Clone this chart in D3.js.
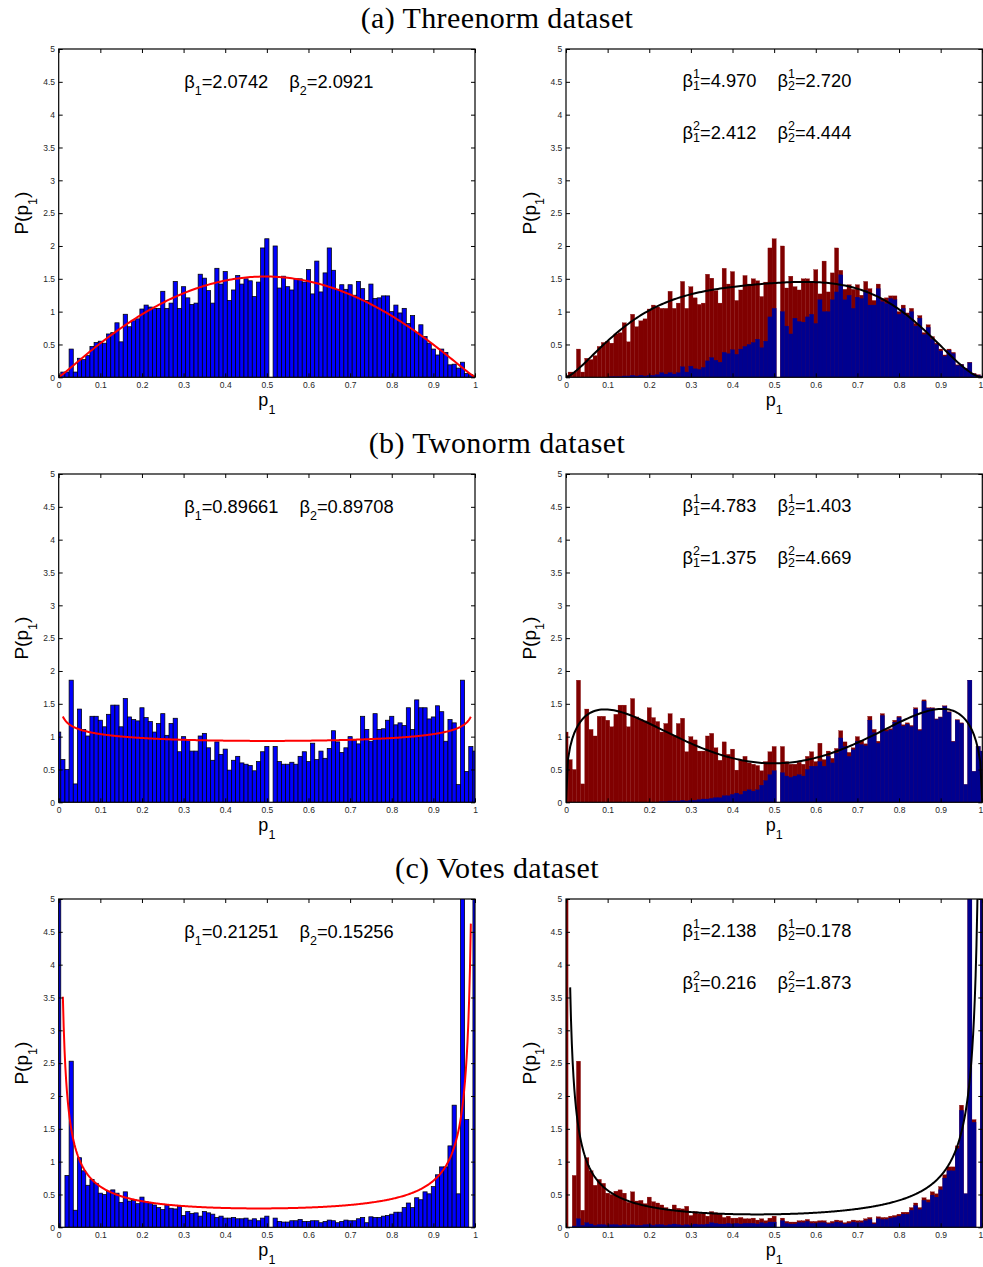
<!DOCTYPE html>
<html>
<head>
<meta charset="utf-8">
<script src="https://cdn.jsdelivr.net/npm/d3@7"></script>
<style>
  body { margin: 0; background: #fff; }
  text { font-family: "Liberation Sans", Arial, sans-serif; }
</style>
</head>
<body>
<svg id="fig" width="983" height="1267"></svg>
<script>
// Histogram bin centres (hist with centres 0:0.01:1)
const binCenters = d3.range(0, 101).map(k => k / 100);
const xTicks = [0, 0.1, 0.2, 0.3, 0.4, 0.5, 0.6, 0.7, 0.8, 0.9, 1];
const yTicks = [0, 0.5, 1, 1.5, 2, 2.5, 3, 3.5, 4, 4.5, 5];

const titles = ["(a) Threenorm dataset", "(b) Twonorm dataset", "(c) Votes dataset"];

// ---- Threenorm ----
const threenormTotal = [
  0.03,0.08,0.08,0.43,0.08,0.29,0.27,0.33,0.47,0.53,
  0.55,0.52,0.66,0.68,0.83,0.54,0.96,0.77,0.86,0.89,
  1.04,1.10,1.07,1.05,1.05,1.31,1.05,1.13,1.46,1.05,
  1.38,1.21,1.11,1.13,1.57,1.51,1.32,1.13,1.66,1.42,
  1.61,1.17,1.33,1.55,1.42,1.50,1.47,1.23,1.45,1.97,
  2.11,0,2.00,1.36,1.54,1.38,1.33,1.50,1.50,1.45,
  1.64,1.27,1.77,1.30,1.59,1.97,1.63,1.34,1.41,1.34,
  1.41,1.25,1.46,1.35,1.17,1.42,1.20,1.21,1.24,1.24,
  1.00,1.10,0.98,1.05,0.82,0.94,0.68,0.80,0.62,0.52,
  0.43,0.34,0.43,0.38,0.19,0.20,0.14,0.23,0.06,0.04,
  0.02];
const threenormClass2 = [
  0,0,0,0,0,0,0,0,0,0,
  0,0.01,0.01,0.01,0.02,0.02,0.03,0.02,0.03,0.02,
  0.03,0.03,0.04,0.07,0.05,0.07,0.05,0.07,0.16,0.08,
  0.17,0.13,0.12,0.15,0.25,0.30,0.26,0.23,0.38,0.36,
  0.42,0.35,0.43,0.47,0.50,0.53,0.58,0.45,0.55,0.92,
  1.05,0,1.00,0.78,0.66,0.90,0.85,0.84,0.92,0.96,
  0.82,1.18,1.00,1.00,1.18,1.30,1.56,1.18,1.25,1.05,
  1.22,1.20,1.32,1.10,1.10,1.35,1.15,1.12,1.20,1.18,
  0.96,1.05,0.93,1.00,0.78,0.90,0.65,0.76,0.58,0.50,
  0.40,0.32,0.41,0.36,0.18,0.19,0.13,0.22,0.05,0.03,
  0.02];
const threenormFit = ["2.0742", "2.0921"];
const threenormMix = [["4.970", "2.720"], ["2.412", "4.444"]];
const threenormWeights = [0.5, 0.5];

// ---- Twonorm ----
const twonormTotal = [
  1.07,0.65,0.50,1.86,0.28,1.42,1.11,1.01,1.31,1.31,
  1.25,1.15,1.34,1.48,1.48,1.15,1.58,1.30,1.26,1.24,
  1.44,1.29,1.23,1.07,1.20,1.35,1.02,1.20,1.28,0.77,
  1.00,0.95,0.78,0.78,1.01,1.05,0.83,0.64,0.92,0.73,
  0.81,0.49,0.64,0.70,0.60,0.58,0.56,0.48,0.62,0.77,
  0.85,0,0.85,0.62,0.58,0.58,0.61,0.58,0.70,0.77,
  0.62,0.90,0.65,0.78,0.67,0.82,1.09,0.92,0.76,0.83,
  1.00,0.94,0.89,1.31,1.11,0.93,1.35,1.11,1.12,1.25,
  1.31,1.18,1.21,1.17,1.44,1.11,1.56,1.44,1.44,1.27,
  1.30,1.47,1.38,0.93,1.26,1.21,0.27,1.86,0.47,0.85,
  0.78];
const twonormClass2 = [
  0,0,0,0,0,0,0,0,0,0,
  0,0,0,0,0,0,0,0,0,0,
  0,0,0,0.01,0.01,0.02,0.02,0.02,0.03,0.02,
  0.03,0.03,0.04,0.05,0.05,0.06,0.07,0.07,0.10,0.10,
  0.12,0.14,0.12,0.17,0.19,0.17,0.19,0.26,0.33,0.42,
  0.48,0,0.45,0.40,0.38,0.40,0.42,0.40,0.50,0.55,
  0.55,0.62,0.55,0.70,0.60,0.75,0.98,0.85,0.70,0.80,
  0.93,0.88,0.86,1.25,1.06,0.90,1.32,1.08,1.10,1.22,
  1.29,1.16,1.19,1.15,1.42,1.09,1.54,1.43,1.43,1.26,
  1.29,1.46,1.37,0.92,1.25,1.20,0.27,1.86,0.47,0.85,
  0.78];
const twonormFit = ["0.89661", "0.89708"];
const twonormMix = [["4.783", "1.403"], ["1.375", "4.669"]];
const twonormWeights = [0.5, 0.5];

// ---- Votes ----
const votesTotal = [
  9.0,0,0.79,2.53,0.26,1.06,0.86,0.64,0.73,0.67,
  0.52,0.50,0.55,0.57,0.52,0.38,0.54,0.40,0.41,0.36,
  0.46,0.39,0.37,0.34,0.30,0.27,0.34,0.29,0.28,0.32,
  0.18,0.24,0.21,0.22,0.17,0.24,0.22,0.20,0.15,0.17,
  0.14,0.14,0.15,0.13,0.13,0.14,0.11,0.13,0.10,0.14,
  0.17,0,0.14,0.09,0.08,0.08,0.10,0.10,0.12,0.09,
  0.09,0.10,0.10,0.07,0.09,0.11,0.10,0.07,0.09,0.11,
  0.10,0.10,0.13,0.15,0.07,0.16,0.15,0.15,0.17,0.18,
  0.20,0.23,0.23,0.30,0.37,0.30,0.45,0.42,0.54,0.51,
  0.62,0.80,0.92,0.92,1.24,1.86,0.51,7.5,1.64,0,
  8.0];
const votesClass2 = [
  0,0,0.02,0.13,0.03,0.07,0.05,0.03,0.04,0.04,
  0.03,0.04,0.04,0.03,0.04,0.03,0.04,0.03,0.03,0.04,
  0.04,0.03,0.04,0.04,0.03,0.04,0.05,0.04,0.03,0.04,
  0.03,0.05,0.04,0.04,0.05,0.07,0.06,0.05,0.05,0.06,
  0.05,0.06,0.05,0.06,0.06,0.06,0.05,0.07,0.06,0.08,
  0.08,0,0.10,0.06,0.05,0.05,0.07,0.07,0.09,0.06,
  0.06,0.07,0.07,0.05,0.06,0.08,0.07,0.05,0.06,0.08,
  0.07,0.07,0.10,0.12,0.05,0.13,0.12,0.12,0.14,0.15,
  0.17,0.20,0.20,0.26,0.33,0.27,0.41,0.38,0.49,0.46,
  0.57,0.75,0.86,0.86,1.20,1.78,0.51,7.5,1.60,0,
  8.0];
const votesFit = ["0.21251", "0.15256"];
const votesMix = [["2.138", "0.178"], ["0.216", "1.873"]];
const votesWeights = [0.614, 0.386];

// ---- Beta density ----
function lgamma(z) {
  const c = [0.99999999999980993, 676.5203681218851, -1259.1392167224028,
    771.32342877765313, -176.61502916214059, 12.507343278686905,
    -0.13857109526572012, 9.9843695780195716e-6, 1.5056327351493116e-7];
  if (z < 0.5) return Math.log(Math.PI / Math.abs(Math.sin(Math.PI * z))) - lgamma(1 - z);
  z -= 1;
  let x = c[0];
  for (let i = 1; i < 9; i++) x += c[i] / (z + i);
  const t = z + 7.5;
  return 0.5 * Math.log(2 * Math.PI) + (z + 0.5) * Math.log(t) - t + Math.log(x);
}
function betaPdf(x, a, b) {
  const lb = lgamma(a) + lgamma(b) - lgamma(a + b);
  return Math.exp((a - 1) * Math.log(x) + (b - 1) * Math.log(1 - x) - lb);
}

// ---- Layout ----
const W = 416.3, H = 328.3;
const colX = [58.7, 566];
const rowY = [49, 474, 899];
const titleY = [28, 453, 878];
const svg = d3.select("#fig");

const datasets = [
  {total: threenormTotal, cls2: threenormClass2, fit: threenormFit, mix: threenormMix, w: threenormWeights, open: false},
  {total: twonormTotal, cls2: twonormClass2, fit: twonormFit, mix: twonormMix, w: twonormWeights, open: true},
  {total: votesTotal, cls2: votesClass2, fit: votesFit, mix: votesMix, w: votesWeights, open: true}
];

const fmt = d => String(+d.toFixed(1));
let clipId = 0;

function axesFrame(g, x, y, x0, y0, atRightEdge) {
  const styleAxis = sel => {
    sel.select(".domain").remove();
    sel.selectAll(".tick line").attr("stroke", "#000").attr("stroke-width", 1);
    sel.selectAll(".tick text").attr("fill", "#262626")
      .style("font-family", '"Liberation Sans", Arial, sans-serif').style("font-size", "8.5px");
  };
  const bottom = g.append("g").attr("transform", `translate(0,${y0 + H})`)
    .call(d3.axisBottom(x).tickValues(xTicks).tickFormat(fmt).tickSizeInner(-4).tickSizeOuter(0).tickPadding(4.2))
    .call(styleAxis);
  if (atRightEdge) {
    // keep the last tick label inside the page
    bottom.selectAll(".tick").filter(d => d === 1).select("text")
      .attr("text-anchor", "end").attr("x", 0.4);
  }
  g.append("g").attr("transform", `translate(0,${y0})`)
    .call(d3.axisTop(x).tickValues(xTicks).tickFormat("").tickSizeInner(-4).tickSizeOuter(0))
    .call(styleAxis);
  g.append("g").attr("transform", `translate(${x0},0)`)
    .call(d3.axisLeft(y).tickValues(yTicks).tickFormat(d => String(d)).tickSizeInner(-4).tickSizeOuter(0).tickPadding(3.7))
    .call(styleAxis);
  g.append("g").attr("transform", `translate(${x0 + W},0)`)
    .call(d3.axisRight(y).tickValues(yTicks).tickFormat("").tickSizeInner(-4).tickSizeOuter(0))
    .call(styleAxis);
  g.append("rect").attr("x", x0).attr("y", y0).attr("width", W).attr("height", H)
    .attr("fill", "none").attr("stroke", "#000").attr("stroke-width", 1.2);

  // axis labels
  g.append("text").attr("x", x0 + W / 2).attr("y", y0 + H + 28.8)
    .attr("text-anchor", "middle").attr("font-size", 18)
    .call(t => {
      t.append("tspan").text("p");
      t.append("tspan").attr("dy", 8).attr("font-size", 12.5).text("1");
    });
  g.append("text").attr("transform", `translate(${x0 - 30.5},${y0 + H / 2}) rotate(-90)`)
    .attr("text-anchor", "middle").attr("font-size", 19)
    .call(t => {
      t.append("tspan").text("P(p");
      t.append("tspan").attr("dy", 8.5).attr("font-size", 12.5).text("1");
      t.append("tspan").attr("dy", -8.5).text(")");
    });
}

// β parameter annotations, written piece by piece so super/subscripts stack
function paramText(g, x0, yBase, groups) {
  let x = x0;
  groups.forEach(gr => {
    const b = g.append("text").attr("x", x).attr("y", yBase).attr("font-size", 18.3).text("β");
    x += b.node().getComputedTextLength();
    let sw = 0;
    if (gr.sup) {
      const s = g.append("text").attr("x", x).attr("y", yBase - 8.3).attr("font-size", 12.5).text(gr.sup);
      sw = s.node().getComputedTextLength();
    }
    const sb = g.append("text").attr("x", x).attr("y", yBase + (gr.sup ? 3.5 : 6.8))
      .attr("font-size", 12.5).text(gr.sub);
    sw = Math.max(sw, sb.node().getComputedTextLength());
    x += sw;
    const v = g.append("text").attr("x", x).attr("y", yBase).attr("font-size", 18.3).text("=" + gr.val);
    x += v.node().getComputedTextLength() + 21;
  });
}

datasets.forEach((ds, r) => {
  const y0 = rowY[r];

  svg.append("text").attr("x", 497).attr("y", titleY[r]).attr("text-anchor", "middle")
    .style("font-family", '"Liberation Serif", "Times New Roman", serif').attr("font-size", 30)
    .attr("letter-spacing", 0.4)
    .text(titles[r]);

  [0, 1].forEach(c => {
    const x0 = colX[c];
    const x = d3.scaleLinear().domain([0, 1]).range([x0, x0 + W]);
    const y = d3.scaleLinear().domain([0, 5]).range([y0 + H, y0]);
    const g = svg.append("g");
    const id = "clip" + (clipId++);
    g.append("clipPath").attr("id", id).append("rect")
      .attr("x", x0).attr("y", y0).attr("width", W).attr("height", H);
    const plot = g.append("g").attr("clip-path", `url(#${id})`);
    const bins = binCenters.map((cx, i) => ({cx, total: ds.total[i], cls2: ds.cls2[i]}));
    const bx = d => x(d.cx - 0.005);
    const bw = d => x(d.cx + 0.005) - x(d.cx - 0.005);

    if (c === 0) {
      plot.selectAll("rect.bar").data(bins.filter(d => d.total > 0)).join("rect")
        .attr("class", "bar")
        .attr("x", bx).attr("width", bw)
        .attr("y", d => y(d.total)).attr("height", d => y(0) - y(d.total))
        .attr("fill", "#0000ff").attr("stroke", "#000").attr("stroke-width", 0.75);

      const a = +ds.fit[0], b = +ds.fit[1];
      const xs = ds.open ? d3.range(0.01, 0.9901, 0.002) : d3.range(0, 1.0001, 0.005);
      plot.append("path").datum(xs.map(t => [t, betaPdf(t, a, b)]))
        .attr("d", d3.line().x(d => x(d[0])).y(d => y(d[1])))
        .attr("fill", "none").attr("stroke", "#ff0000").attr("stroke-width", 2);
    } else {
      plot.selectAll("rect.tot").data(bins.filter(d => d.total > 0)).join("rect")
        .attr("class", "tot")
        .attr("x", bx).attr("width", bw)
        .attr("y", d => y(d.total)).attr("height", d => y(0) - y(d.total))
        .attr("fill", "#800000").attr("stroke", "#800000").attr("stroke-width", 0.3);
      plot.selectAll("rect.c2").data(bins.filter(d => d.cls2 > 0)).join("rect")
        .attr("class", "c2")
        .attr("x", bx).attr("width", bw)
        .attr("y", d => y(d.cls2)).attr("height", d => y(0) - y(d.cls2))
        .attr("fill", "#00008f").attr("stroke", "#00008f").attr("stroke-width", 0.3);

      const comps = ds.mix.map(p => [+p[0], +p[1]]);
      const xs = r === 2 ? d3.range(0.01, 0.9901, 0.002) : d3.range(0, 1.0001, 0.005);
      const mixPdf = t => comps.reduce((s, p, k) => s + ds.w[k] * betaPdf(t, p[0], p[1]), 0);
      plot.append("path").datum(xs.map(t => [t, Math.min(mixPdf(t), 50)]))
        .attr("d", d3.line().x(d => x(d[0])).y(d => y(d[1])))
        .attr("fill", "none").attr("stroke", "#000").attr("stroke-width", 2);
    }

    axesFrame(g, x, y, x0, y0, c === 1);

    if (c === 0) {
      paramText(g, x0 + 125.5, y0 + 39, [
        {sub: "1", val: ds.fit[0]},
        {sub: "2", val: ds.fit[1]}
      ]);
    } else {
      paramText(g, x0 + 116.5, y0 + 37.5, [
        {sup: "1", sub: "1", val: ds.mix[0][0]},
        {sup: "1", sub: "2", val: ds.mix[0][1]}
      ]);
      paramText(g, x0 + 116.5, y0 + 89.5, [
        {sup: "2", sub: "1", val: ds.mix[1][0]},
        {sup: "2", sub: "2", val: ds.mix[1][1]}
      ]);
    }
  });
});
</script>
</body>
</html>
